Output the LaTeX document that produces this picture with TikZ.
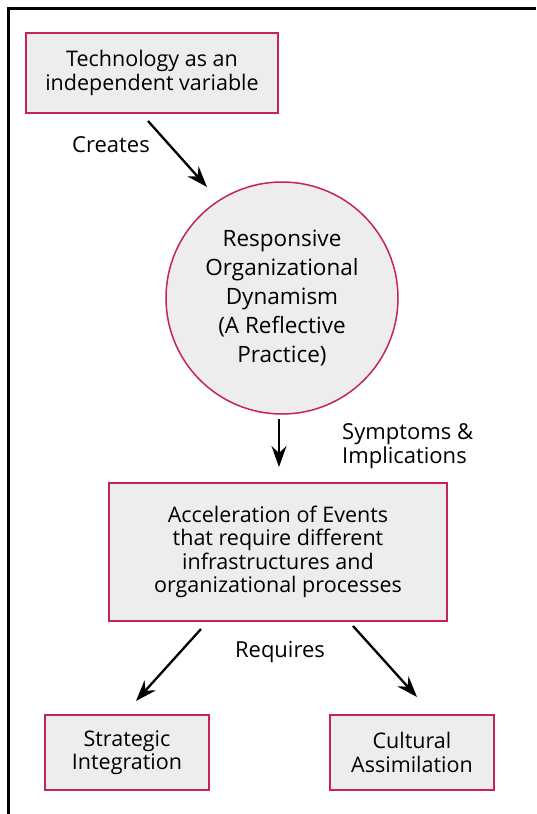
\documentclass[tikz,border=0pt]{standalone}
\usepackage{fontspec}
\setmainfont{Open Sans}
\usetikzlibrary{arrows.meta}
\definecolor{bordercol}{RGB}{196,36,86}
\definecolor{fillcol}{RGB}{237,237,237}
\begin{document}
\begin{tikzpicture}[x=1pt,y=-1pt,
  boxnode/.style={draw=bordercol,fill=fillcol,line width=1.5pt,align=center,inner sep=0pt,
    font=\fontsize{21.5}{23.5}\selectfont},
  circnode/.style={circle,draw=bordercol,fill=fillcol,line width=1.5pt,align=center,inner sep=0pt,
    minimum size=232pt,font=\fontsize{22.5}{29}\selectfont},
  lbl/.style={font=\fontsize{22}{24}\selectfont,inner sep=0pt},
  arr/.style={line width=2.3pt,-{Stealth[length=21pt,width=15pt,inset=7pt]}},
  frame/.style={line width=3pt}]
\useasboundingbox (0,0) rectangle (536,814);
\coordinate (ftr) at (536,8);
\coordinate (ftl) at (8,8);
\coordinate (fbl) at (8,814);
\draw[frame] (ftr) -- (ftl) -- (fbl);
\node[boxnode,minimum width=252pt,minimum height=80pt] (tech) at (152,73)
  {Technology as an\\independent variable};
\node[circnode] (rod) at (282,298)
  {Responsive\\Organizational\\Dynamism\\(A Reflective\\Practice)};
\node[boxnode,minimum width=338pt,minimum height=138pt] (accel) at (278,552)
  {Acceleration of Events\\that require different\\infrastructures and\\organizational processes};
\node[boxnode,minimum width=164pt,minimum height=75pt] (strat) at (127,752.5)
  {Strategic\\Integration};
\node[boxnode,minimum width=164pt,minimum height=75pt] (cult) at (412,752.5)
  {Cultural\\Assimilation};
\coordinate (c1s) at (148,121);
\coordinate (c1e) at (207,187);
\coordinate (c2s) at (279,419);
\coordinate (c2e) at (279,467);
\coordinate (c3s) at (201,629);
\coordinate (c3e) at (136,701);
\coordinate (c4s) at (353,626);
\coordinate (c4e) at (417,697);
\draw[arr] (c1s) -- (c1e);
\draw[arr] (c2s) -- (c2e);
\draw[arr] (c3s) -- (c3e);
\draw[arr] (c4s) -- (c4e);
\node[lbl] (creates) at (111,145) {Creates};
\node[lbl,align=left,anchor=west] (symp) at (342,446) {Symptoms \&\\Implications};
\node[lbl] (req) at (280,652) {Requires};
\end{tikzpicture}
\end{document}
